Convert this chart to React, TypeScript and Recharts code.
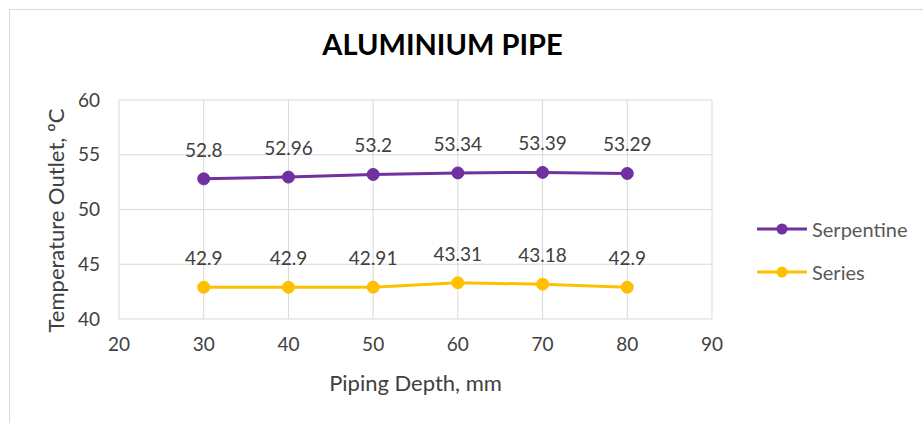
import React from "react";
import {
  LineChart,
  Line,
  XAxis,
  YAxis,
  CartesianGrid,
  Legend,
  LabelList,
} from "recharts";

const depths = [30, 40, 50, 60, 70, 80];
const serpentine = [52.8, 52.96, 53.2, 53.34, 53.39, 53.29];
const seriesVals = [42.9, 42.9, 42.91, 43.31, 43.18, 42.9];
const xTicks = [20, 30, 40, 50, 60, 70, 80, 90];
const yTicks = [40, 45, 50, 55, 60];

const PURPLE = "#7030A0";
const GOLD = "#FFC000";
const FONT = "Lato, 'Open Sans', sans-serif";
const TEXT = "#404040";

const data = depths.map((d, i) => ({
  depth: d,
  serpentine: serpentine[i],
  series: seriesVals[i],
}));

const legendItems = [
  { name: "Serpentine", color: PURPLE },
  { name: "Series", color: GOLD },
];

function ChartLegend() {
  return (
    <div style={{ fontFamily: FONT, fontSize: 20, color: "#595959" }}>
      {legendItems.map((it) => (
        <div
          key={it.name}
          style={{ display: "flex", alignItems: "center", height: 43 }}
        >
          <svg width={52} height={14} style={{ marginRight: 3 }}>
            <line x1={0} y1={7} x2={50} y2={7} stroke={it.color} strokeWidth={3} />
            <circle cx={25} cy={7} r={5.5} fill={it.color} />
          </svg>
          <span>{it.name}</span>
        </div>
      ))}
    </div>
  );
}

export default function App() {
  return (
    <div
      style={{
        position: "absolute",
        left: 0,
        top: 0,
        width: 923,
        height: 423,
        background: "#fff",
        overflow: "hidden",
      }}
    >
      <div
        style={{
          position: "absolute",
          left: 9,
          top: 9,
          width: 940,
          height: 440,
          border: "1px solid #d9d9d9",
        }}
      />
      <div
        style={{
          position: "absolute",
          left: 0,
          width: 885,
          top: 26,
          textAlign: "center",
          fontFamily: FONT,
          fontWeight: 700,
          fontSize: 29,
          color: "#000",
        }}
      >
        ALUMINIUM PIPE
      </div>
      <LineChart
        width={923}
        height={423}
        data={data}
        margin={{ top: 100, right: 211, left: 0, bottom: 24 }}
        style={{ position: "absolute", left: 0, top: 0 }}
      >
        <CartesianGrid stroke="#d9d9d9" />
        <XAxis
          dataKey="depth"
          type="number"
          domain={[20, 90]}
          ticks={xTicks}
          height={80}
          axisLine={false}
          tickLine={false}
          tickMargin={13}
          tick={{ fontFamily: FONT, fontSize: 19, fill: TEXT }}
          label={{
            value: "Piping Depth, mm",
            position: "center",
            dy: 24,
            style: { fontFamily: FONT, fontSize: 22, fill: TEXT },
          }}
        />
        <YAxis
          type="number"
          domain={[40, 60]}
          ticks={yTicks}
          width={119}
          axisLine={false}
          tickLine={false}
          tickMargin={13}
          tick={{ fontFamily: FONT, fontSize: 19, fill: TEXT }}
          label={{
            value: "Temperature Outlet, ºC",
            angle: -90,
            position: "center",
            dx: -3,
            dy: 11,
            style: { fontFamily: FONT, fontSize: 22, fill: TEXT, textAnchor: "middle" },
          }}
        />
        <Legend
          layout="horizontal"
          verticalAlign="middle"
          align="center"
          wrapperStyle={{ left: 757, top: 207, width: 166 }}
          content={<ChartLegend />}
        />
        <Line
          dataKey="serpentine"
          name="Serpentine"
          stroke={PURPLE}
          strokeWidth={3}
          dot={{ r: 6, fill: PURPLE, stroke: PURPLE, strokeWidth: 1 }}
          isAnimationActive={false}
        >
          <LabelList
            dataKey="serpentine"
            position="top"
            offset={22}
            style={{ fontFamily: FONT, fontSize: 19, fill: TEXT }}
          />
        </Line>
        <Line
          dataKey="series"
          name="Series"
          stroke={GOLD}
          strokeWidth={3}
          dot={{ r: 6, fill: GOLD, stroke: GOLD, strokeWidth: 1 }}
          isAnimationActive={false}
        >
          <LabelList
            dataKey="series"
            position="top"
            offset={22}
            style={{ fontFamily: FONT, fontSize: 19, fill: TEXT }}
          />
        </Line>
      </LineChart>
    </div>
  );
}
